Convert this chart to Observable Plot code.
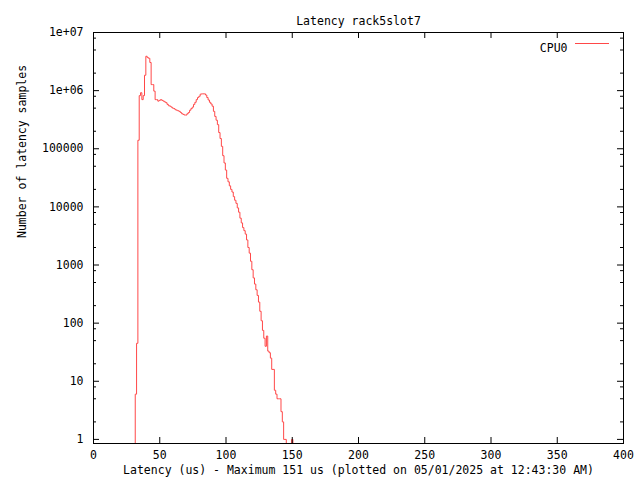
<!DOCTYPE html>
<html>
<head>
<meta charset="utf-8">
<script src="https://cdn.jsdelivr.net/npm/d3@7"></script>
<script src="https://cdn.jsdelivr.net/npm/@observablehq/plot@0.6"></script>
<style>
  html, body { margin: 0; padding: 0; background: white; }
</style>
</head>
<body>
<div id="chart"></div>
<script>
// ---- data ----
const latencyUs = [
  31, 32, 33, 34, 35, 36, 37, 38, 39, 40, 41, 42, 43, 44, 45, 46, 47, 48, 49, 50,
  51, 52, 53, 54, 55, 56, 57, 58, 59, 60, 61, 62, 63, 64, 65, 66, 67, 68, 69, 70,
  71, 72, 73, 74, 75, 76, 77, 78, 79, 80, 81, 82, 83, 84, 85, 86, 87, 88, 89, 90,
  91, 92, 93, 94, 95, 96, 97, 98, 99, 100, 101, 102, 103, 104, 105, 106, 107, 108, 109, 110,
  111, 112, 113, 114, 115, 116, 117, 118, 119, 120, 121, 122, 123, 124, 125, 126, 127, 128, 129, 130,
  131, 132, 133, 134, 135, 136, 137, 138, 139, 140, 141, 142, 143, 144, 145, 146, 147, 148, 149, 150, 151
];
const cpu0Samples = [
  0, 6, 45, 140000, 820000, 920000, 700000, 820000, 1840000, 3900000,
  3700000, 3600000, 3050000, 1270000, 1270000, 980000, 700000, 700000, 660000, 680000,
  700000, 680000, 660000, 640000, 620000, 580000, 550000, 540000, 520000, 500000,
  490000, 470000, 460000, 450000, 440000, 420000, 400000, 390000, 380000, 380000,
  400000, 420000, 460000, 490000, 520000, 580000, 630000, 700000, 760000, 800000,
  870000, 880000, 880000, 880000, 840000, 760000, 690000, 630000, 590000, 540000,
  440000, 360000, 310000, 260000, 190000, 150000, 110000, 76000, 57000, 43000,
  31000, 27000, 23000, 20000, 18000, 15000, 13000, 11500, 9600, 8100,
  6400, 5300, 4400, 3900, 3400, 2700, 2000, 1600, 1160, 830,
  600, 470, 375, 300, 230, 160, 110, 75, 55, 40,
  60, 33, 31, 25, 16, 16, 7, 6, 5, 5,
  5, 3, 2, 1, 1, 0, 0, 0, 0, 1, 0
];
const xTicks = [0, 50, 100, 150, 200, 250, 300, 350, 400];
const yMajorTicks = [1, 10, 100, 1000, 10000, 100000, 1000000, 10000000];
const yMinorTicks = [2, 5, 8, 20, 50, 80, 200, 500, 800, 2000, 5000, 8000,
  20000, 50000, 80000, 200000, 500000, 800000, 2000000, 5000000, 8000000];
const seriesName = "CPU0";
const titleText = "Latency rack5slot7";
const xLabelText = "Latency (us) - Maximum 151 us (plotted on 05/01/2025 at 12:43:30 AM)";
const yLabelText = "Number of latency samples";

// ---- chart ----
const W = 640, H = 480;
const mL = 93, mR = 17, mT = 32, mB = 37;
const frameW = W - mL - mR, frameH = H - mT - mB;
const yFloor = 0.85;
const red = "#ff4848";
const font = "DejaVu Sans Mono";
const fs = 11.5;

const rows = latencyUs.map((us, i) => ({us, count: cpu0Samples[i]}));
const yFmt = d => d >= 1e6 ? d.toExponential().replace("e+", "e+0") : String(d);

const chart = Plot.plot({
  width: W, height: H,
  marginLeft: mL, marginRight: mR, marginTop: mT, marginBottom: mB,
  style: {fontFamily: font, fontSize: fs + "px", background: "white", color: "black"},
  x: {domain: [0, 400]},
  y: {type: "log", domain: [yFloor, 1e7]},
  marks: [
    Plot.line(rows, {x: "us", y: d => Math.max(d.count, yFloor), curve: "step", stroke: red, strokeWidth: 1}),
    // axes labels
    Plot.axisX({ticks: xTicks, tickSize: 0, tickPadding: 7, label: null, fontFamily: font, fontSize: fs}),
    Plot.axisY({ticks: yMajorTicks, tickSize: 0, tickPadding: 10, tickFormat: yFmt, label: null, fontFamily: font, fontSize: fs}),
    // inward ticks (bottom/top)
    Plot.ruleX(xTicks, {insetTop: frameH - 6, stroke: "black"}),
    Plot.ruleX(xTicks, {insetBottom: frameH - 6, stroke: "black"}),
    // inward ticks (left/right) major and minor
    Plot.ruleY(yMajorTicks, {insetRight: frameW - 6, stroke: "black"}),
    Plot.ruleY(yMajorTicks, {insetLeft: frameW - 6, stroke: "black"}),
    Plot.ruleY(yMinorTicks, {insetRight: frameW - 3, stroke: "black"}),
    Plot.ruleY(yMinorTicks, {insetLeft: frameW - 3, stroke: "black"}),
    Plot.frame({stroke: "black"}),
    // titles
    Plot.text([titleText], {text: d => d, frameAnchor: "top", dy: -16, fontFamily: font, fontSize: fs}),
    Plot.text([xLabelText], {text: d => d, frameAnchor: "bottom", dy: 30, fontFamily: font, fontSize: fs}),
    Plot.text([yLabelText], {text: d => d, frameAnchor: "left", dx: -71, rotate: -90, fontFamily: font, fontSize: fs}),
    // legend label
    Plot.text([seriesName], {text: d => d, frameAnchor: "top-right", dx: -56, dy: 11, textAnchor: "end", fontFamily: font, fontSize: fs})
  ]
});

// legend line sample
const svg = d3.select(chart);
svg.append("line")
  .attr("x1", W - mR - 48).attr("x2", W - mR - 14)
  .attr("y1", mT + 11.5).attr("y2", mT + 11.5)
  .attr("stroke", red).attr("stroke-width", 1);

document.getElementById("chart").appendChild(chart);
</script>
</body>
</html>
